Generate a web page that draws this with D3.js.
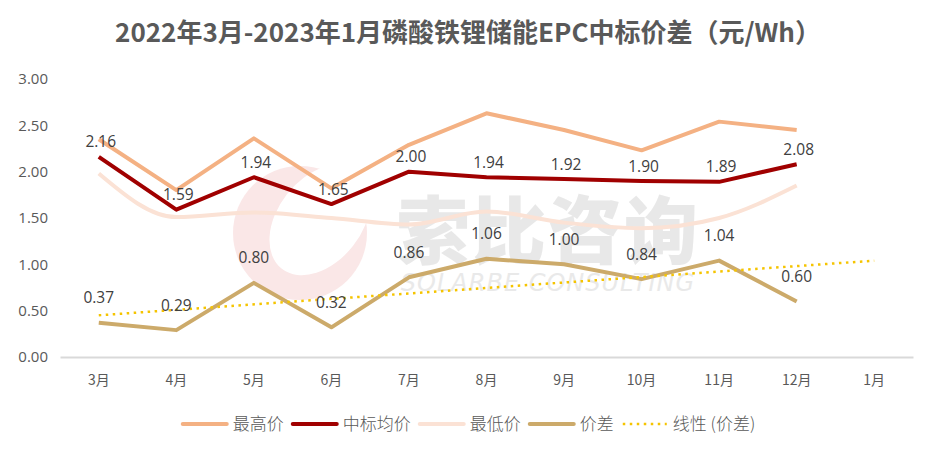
<!DOCTYPE html>
<html>
<head>
<meta charset="utf-8">
<script src="https://cdn.jsdelivr.net/npm/d3@7"></script>
<style>
  html, body { margin: 0; padding: 0; background: #fff; }
  svg { display: block; }
</style>
</head>
<body>
<svg id="chart" width="936" height="454"></svg>
<script>
// ---- data ----
const months   = ['3月','4月','5月','6月','7月','8月','9月','10月','11月','12月','1月'];
const maxPrice = [2.35, 1.80, 2.36, 1.82, 2.29, 2.63, 2.45, 2.23, 2.54, 2.45];
const avgPrice = [2.16, 1.59, 1.94, 1.65, 2.00, 1.94, 1.92, 1.90, 1.89, 2.08];
const minPrice = [1.98, 1.51, 1.56, 1.50, 1.43, 1.57, 1.45, 1.39, 1.50, 1.85];
const priceGap = [0.37, 0.29, 0.80, 0.32, 0.86, 1.06, 1.00, 0.84, 1.04, 0.60];
const trendMonths = ['3月', '1月'];
const trendValues = [0.45, 1.04];
const yTicks = [0, 0.5, 1.0, 1.5, 2.0, 2.5, 3.0];
const seriesNames = ['最高价', '中标均价', '最低价', '价差', '线性 (价差)'];
const titleText = '2022年3月-2023年1月磷酸铁锂储能EPC中标价差（元/Wh）';

// ---- layout ----
const svg = d3.select('#chart');
const W = 936, H = 454;
const plot = { left: 60, right: 913, top: 79, bottom: 357 };
const fontLatin = "'Open Sans', 'Noto Sans', 'Noto Sans CJK SC', sans-serif";
const fontCJK = "'Noto Sans CJK SC', 'Noto Sans', sans-serif";

const x = d3.scaleBand().domain(months).range([plot.left, plot.right]).paddingInner(0).paddingOuter(0);
const xc = m => x(m) + x.bandwidth() / 2;
const y = d3.scaleLinear().domain([0, 3]).range([plot.bottom, plot.top]);

const colors = {
  max: '#F4B183',
  avg: '#A00000',
  min: '#FBE2D5',
  gap: '#CCAA6A',
  trend: '#F5C400'
};

// ---- watermark (under everything) ----
const wm = svg.append('g').attr('class', 'watermark');
wm.append('circle').attr('cx', 300).attr('cy', 233).attr('r', 67)
  .attr('fill', '#F5CFCF').attr('opacity', 0.5);
wm.append('ellipse').attr('cx', 320).attr('cy', 220).attr('rx', 42).attr('ry', 62)
  .attr('transform', 'rotate(38,320,220)').attr('fill', '#fff');
wm.append('text').attr('x', 548).attr('y', 258).attr('text-anchor', 'middle')
  .attr('font-family', fontCJK).attr('font-weight', 900).attr('font-size', 74)
  .attr('fill', '#E3E3E3').attr('opacity', 0.8).attr('letter-spacing', 2)
  .text('索比咨询');
wm.append('text').attr('x', 548).attr('y', 291).attr('text-anchor', 'middle')
  .attr('font-family', "'DejaVu Sans', sans-serif").attr('font-style', 'italic')
  .attr('font-size', 24).attr('fill', '#E6E6E6').attr('opacity', 0.85)
  .attr('letter-spacing', 1)
  .text('SOLARBE CONSULTING');

// ---- title ----
svg.append('text').attr('x', W / 2).attr('y', 42).attr('text-anchor', 'middle')
  .attr('font-family', fontCJK).attr('font-weight', 700).attr('font-size', 26)
  .attr('fill', '#595959').text(titleText);

// ---- axes ----
const yAxis = svg.append('g').attr('transform', `translate(${plot.left},0)`)
  .call(d3.axisLeft(y).tickValues(yTicks).tickFormat(d3.format('.2f')).tickSize(0).tickPadding(12));
yAxis.select('.domain').remove();
yAxis.selectAll('text').attr('font-family', fontLatin).attr('font-size', 15).attr('fill', '#595959');

const xAxis = svg.append('g').attr('transform', `translate(0,${plot.bottom})`)
  .call(d3.axisBottom(x).tickSize(0).tickSizeOuter(0).tickPadding(18));
xAxis.select('.domain').attr('stroke', '#D9D9D9').attr('stroke-width', 2);
xAxis.selectAll('text').attr('font-family', fontCJK).attr('font-size', 14).attr('fill', '#595959');

// ---- lines ----
const mk = vals => vals.map((v, i) => ({ m: months[i], v }));
const lineLin = d3.line().x(d => xc(d.m)).y(d => y(d.v));
const lineSmooth = d3.line().x(d => xc(d.m)).y(d => y(d.v)).curve(d3.curveMonotoneX);

const g = svg.append('g').attr('fill', 'none').attr('stroke-linejoin', 'round');
g.append('path').datum(mk(minPrice)).attr('d', lineSmooth)
  .attr('stroke', colors.min).attr('stroke-width', 4);
g.append('path').datum(mk(maxPrice)).attr('d', lineLin)
  .attr('stroke', colors.max).attr('stroke-width', 4);
g.append('path').datum(mk(priceGap)).attr('d', lineLin)
  .attr('stroke', colors.gap).attr('stroke-width', 4);
g.append('path').datum(trendMonths.map((m, i) => ({ m, v: trendValues[i] }))).attr('d', lineLin)
  .attr('stroke', colors.trend).attr('stroke-width', 2.5).attr('stroke-dasharray', '2.5,4.5');
g.append('path').datum(mk(avgPrice)).attr('d', lineLin)
  .attr('stroke', colors.avg).attr('stroke-width', 4);

// ---- data labels ----
const lbl = svg.append('g').attr('font-family', fontLatin).attr('font-size', 15.5)
  .attr('fill', '#404040').attr('text-anchor', 'middle');
lbl.selectAll('.la').data(mk(avgPrice)).join('text').attr('class', 'la')
  .attr('x', d => xc(d.m) + 2).attr('y', d => y(d.v) - 15).attr('dy', '0.36em')
  .text(d => d.v.toFixed(2));
lbl.selectAll('.lg').data(mk(priceGap)).join('text').attr('class', 'lg')
  .attr('x', d => xc(d.m)).attr('y', d => y(d.v) - 25).attr('dy', '0.36em')
  .text(d => d.v.toFixed(2));

// ---- legend ----
const legendItems = [
  { name: seriesNames[0], color: colors.max, dash: null, w: 4 },
  { name: seriesNames[1], color: colors.avg, dash: null, w: 4 },
  { name: seriesNames[2], color: colors.min, dash: null, w: 4 },
  { name: seriesNames[3], color: colors.gap, dash: null, w: 4 },
  { name: seriesNames[4], color: colors.trend, dash: '2.5,4.5', w: 2.5 }
];
const legend = svg.append('g');
const swLen = 44, swGap = 6, itemGap = 9, legY = 424;
let cx = 0;
legendItems.forEach(it => {
  const gi = legend.append('g').attr('transform', `translate(${cx},0)`);
  gi.append('line').attr('x1', 0).attr('x2', swLen).attr('y1', legY).attr('y2', legY)
    .attr('stroke', it.color).attr('stroke-width', it.w)
    .attr('stroke-linecap', it.dash ? 'butt' : 'round')
    .attr('stroke-dasharray', it.dash);
  const t = gi.append('text').attr('x', swLen + swGap).attr('y', legY).attr('dy', '0.35em')
    .attr('font-family', fontCJK).attr('font-size', 17).attr('font-weight', 300)
    .attr('fill', '#595959').text(it.name);
  cx += swLen + swGap + t.node().getComputedTextLength() + itemGap;
});
const legW = cx - itemGap;
legend.attr('transform', `translate(${(W - legW) / 2 + 1},0)`);
</script>
</body>
</html>
